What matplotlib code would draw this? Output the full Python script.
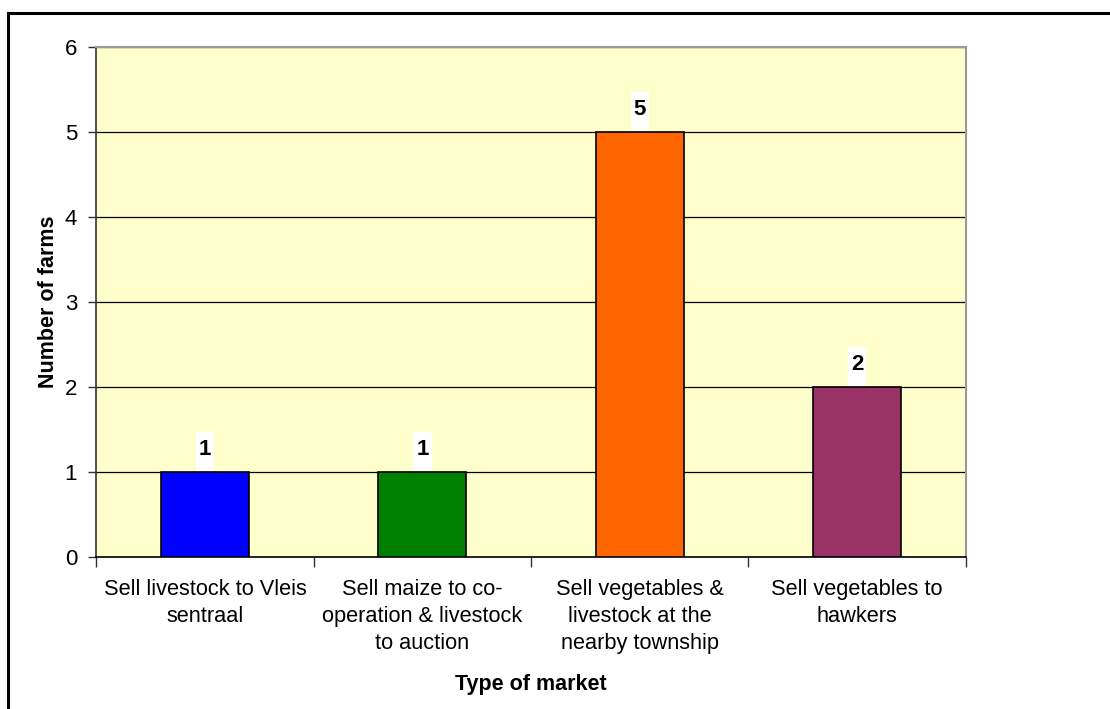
import matplotlib.pyplot as plt
from matplotlib.lines import Line2D
from matplotlib.patches import Rectangle
import numpy as np

plt.rcParams['font.family'] = ['Liberation Sans', 'DejaVu Sans']

markets = [
    "Sell livestock to Vleis\nsentraal",
    "Sell maize to co-\noperation & livestock\nto auction",
    "Sell vegetables &\nlivestock at the\nnearby township",
    "Sell vegetables to\nhawkers",
]
farms = [1, 1, 5, 2]
bar_colors = ["#0000FF", "#008000", "#FF6600", "#993366"]

fig = plt.figure(figsize=(11.1, 7.09), dpi=100)
ax = fig.add_axes([0.0869, 0.2144, 0.7831, 0.7193])
ax.set_facecolor("#FFFFCC")

x = np.arange(len(farms))
bars = ax.bar(x, farms, width=0.405, color=bar_colors, edgecolor="black",
              linewidth=1.2, zorder=3)

# value labels sitting on white tags above each bar
for rect, v in zip(bars, farms):
    xc = rect.get_x() + rect.get_width() / 2
    ax.add_patch(Rectangle((xc - 0.042, v + 0.015), 0.084, 0.45,
                           facecolor="white", edgecolor="none", zorder=4))
    ax.text(xc, v + 0.26, str(v), ha="center", va="center",
            fontsize=16, fontweight="bold", zorder=5)

ax.set_xlim(-0.5, len(farms) - 0.5)
ax.set_ylim(0, 6)
ax.set_yticks(range(0, 7))
ax.yaxis.grid(True, color="black", linewidth=0.9, zorder=1)
ax.set_axisbelow(True)

ax.set_xticks(x)
ax.set_xticklabels(markets, fontsize=15.7, linespacing=1.38)
ax.set_xticks(np.arange(-0.5, len(farms)), minor=True)
ax.tick_params(axis="x", which="major", length=0, pad=16)
ax.tick_params(axis="x", which="minor", length=7, width=1, color="#333333")
ax.tick_params(axis="y", length=6, width=1, labelsize=16, pad=8, color="#333333")

for side in ("top", "right"):
    ax.spines[side].set_color("#999999")
    ax.spines[side].set_linewidth(1.5)
ax.spines["left"].set_color("#333333")
ax.spines["bottom"].set_color("black")
ax.spines["left"].set_linewidth(1.2)
ax.spines["bottom"].set_linewidth(1.2)

ax.set_xlabel("Type of market", fontsize=15.5, fontweight="bold", labelpad=14)
ax.set_ylabel("Number of farms", fontsize=15.5, fontweight="bold", labelpad=4)

# frame lines along the left and top edges of the chart area
fig.add_artist(Line2D([8 / 1110, 8 / 1110], [0, 1 - 13 / 709],
                      transform=fig.transFigure, color="black", linewidth=2.2))
fig.add_artist(Line2D([8 / 1110, 1], [1 - 13 / 709, 1 - 13 / 709],
                      transform=fig.transFigure, color="black", linewidth=2.2))

fig.savefig("out.png", dpi=100)
